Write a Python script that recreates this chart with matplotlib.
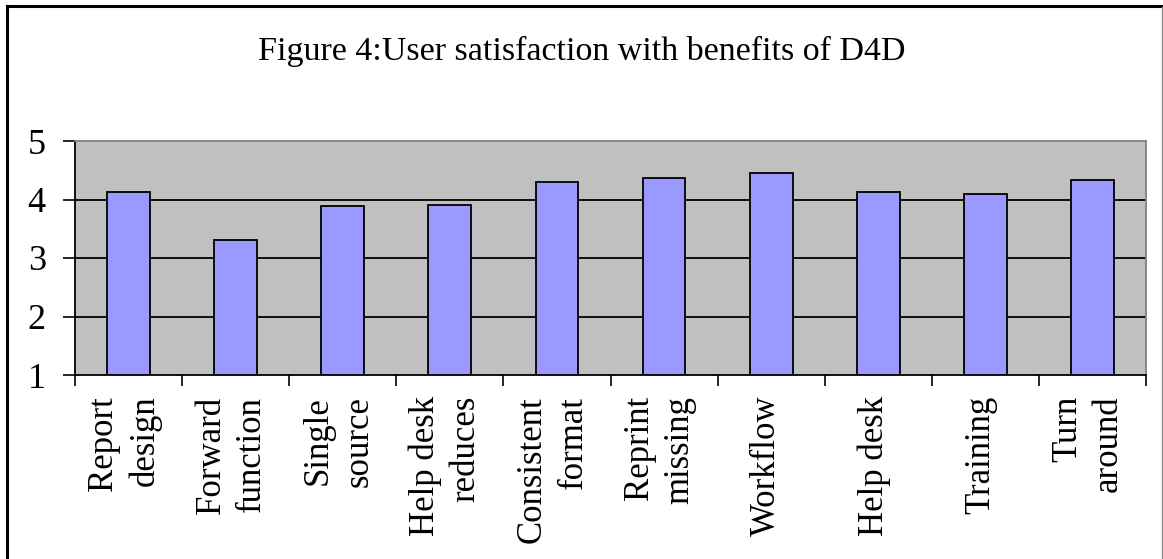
import matplotlib
matplotlib.use("Agg")
import matplotlib.pyplot as plt
from matplotlib.lines import Line2D
import numpy as np

# mean satisfaction score per benefit (1-5 scale)
labels = ["Report\ndesign", "Forward\nfunction", "Single\nsource", "Help desk\nreduces",
          "Consistent\nformat", "Reprint\nmissing", "Workflow", "Help desk",
          "Training", "Turn\naround"]
scores = [4.13, 3.30, 3.89, 3.91, 4.30, 4.36, 4.45, 4.13, 4.10, 4.33]
yticks = [1, 2, 3, 4, 5]

plt.rcParams['font.family'] = ['Liberation Serif', 'DejaVu Serif']

W, H = 1163, 559
fig = plt.figure(figsize=(W / 100, H / 100), dpi=100)
ax = fig.add_axes([75 / W, 1 - 375 / H, 1071 / W, 234 / H])

x = np.arange(len(labels))
ax.set_facecolor("#C0C0C0")
ax.bar(x, np.array(scores) - 1, bottom=1, width=0.4, color="#9999FF",
       edgecolor="black", linewidth=1.3, zorder=3)

ax.set_ylim(1, 5)
ax.set_xlim(-0.5, len(labels) - 0.5)
ax.set_yticks(yticks)
ax.tick_params(axis="y", labelsize=26, length=9, width=1.2, direction="out", pad=12)
for y in yticks[1:-1]:
    ax.axhline(y, color="black", linewidth=1.3, zorder=1)

# category ticks sit on the boundaries, labels at the centres
ax.set_xticks(np.arange(len(labels) + 1) - 0.5)
ax.set_xticklabels([])
ax.tick_params(axis="x", length=8, width=1.2, direction="out")
ax.set_xticks(x - 0.04, minor=True)
ax.set_xticklabels(labels, minor=True, rotation=90, fontsize=25, linespacing=1.3,
                   ha="center", va="top", multialignment="right")
ax.tick_params(axis="x", which="minor", length=0, pad=15)

ax.spines["left"].set_linewidth(1.3)
ax.spines["bottom"].set_linewidth(1.3)
ax.spines["top"].set_color("#808080")
ax.spines["right"].set_color("#808080")
ax.spines["top"].set_linewidth(1.3)
ax.spines["right"].set_linewidth(1.3)

fig.text(0.5, 1 - 60 / H, "Figure 4:User satisfaction with benefits of D4D",
         ha="center", va="baseline", fontsize=24.5)

# frame: black top and left edges, thin grey right edge
fig.add_artist(Line2D([7 / W, 1], [1 - 6 / H, 1 - 6 / H], color="black", linewidth=2.2))
fig.add_artist(Line2D([7 / W, 7 / W], [0, 1 - 6 / H], color="black", linewidth=2.2))
fig.add_artist(Line2D([1162 / W, 1162 / W], [0, 1 - 7 / H], color="#909090", linewidth=1))

fig.savefig("out.png", dpi=100)
